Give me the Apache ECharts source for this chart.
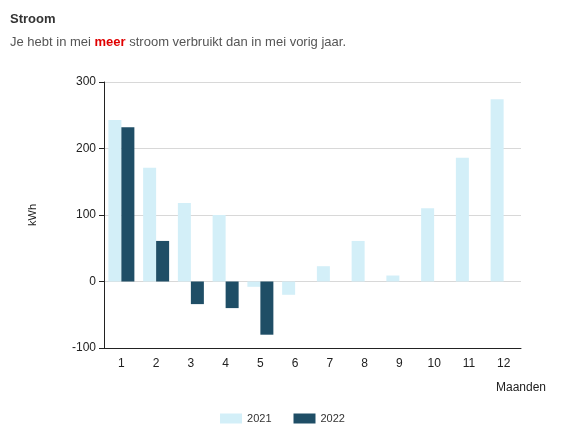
<!DOCTYPE html>
<html><head><meta charset="utf-8">
<script src="https://cdn.jsdelivr.net/npm/echarts@6/dist/echarts.min.js"></script>
<style>html,body{margin:0;padding:0;background:#fff}#c{width:565px;height:439px}</style>
</head><body><div id="c"></div>
<script>
const months = ['1','2','3','4','5','6','7','8','9','10','11','12'];
const values2021 = [243, 171, 118, 100, -8, -20, 23, 61, 9, 110, 186, 274];
const values2022 = [232, 61, -34, -40, -80, null, null, null, null, null, null, null];
const yTicks = {min: -100, max: 300, interval: 100};
const chart = echarts.init(document.getElementById('c'));
chart.setOption({
  animation: false,
  textStyle: {fontFamily: 'Arial, Liberation Sans, sans-serif'},
  title: [{
    left: 5, top: 8,
    text: 'Stroom',
    textStyle: {fontSize: 13, fontWeight: 'bold', color: '#333'}
  }, {
    left: 5, top: 31,
    text: '{n|Je hebt in mei }{r|meer}{n| stroom verbruikt dan in mei vorig jaar.}',
    textStyle: {fontWeight: 'normal', rich: {n: {fontSize: 13, color: '#555', fontWeight: 'normal'}, r: {fontSize: 13, color: '#e00000', fontWeight: 'bold'}}}
  }],
  legend: {
    bottom: 10, left: 'center', itemWidth: 22, itemHeight: 10, itemGap: 22,
    itemStyle: {borderRadius: 0},
    textStyle: {fontSize: 11, color: '#333'},
    data: [{name: '2021', icon: 'rect'}, {name: '2022', icon: 'rect'}]
  },
  grid: {left: 104, right: 44, top: 82, bottom: 91},
  xAxis: {
    type: 'category', data: months,
    name: 'Maanden', nameLocation: 'end', nameGap: 0,
    nameTextStyle: {color: '#222', fontSize: 12, padding: [34, 0, 0, -25], verticalAlign: 'top'},
    axisLine: {onZero: false, lineStyle: {color: '#222'}},
    axisTick: {alignWithLabel: true, lineStyle: {color: '#222'}},
    axisLabel: {color: '#222', fontSize: 12, margin: 10}
  },
  yAxis: {
    type: 'value', min: yTicks.min, max: yTicks.max, interval: yTicks.interval,
    name: 'kWh', nameLocation: 'middle', nameGap: 66, nameRotate: 90,
    nameTextStyle: {color: '#222', fontSize: 11},
    axisLine: {show: true, lineStyle: {color: '#222'}},
    axisTick: {show: true, lineStyle: {color: '#222'}},
    axisLabel: {color: '#222', fontSize: 12},
    splitLine: {lineStyle: {color: '#d8d8d8'}}
  },
  series: [
    {name: '2021', type: 'bar', data: values2021, barWidth: 13, barGap: '0%', itemStyle: {color: '#d3eff8'}},
    {name: '2022', type: 'bar', data: values2022, barWidth: 13, itemStyle: {color: '#1f4e66'}}
  ]
});
</script></body></html>
